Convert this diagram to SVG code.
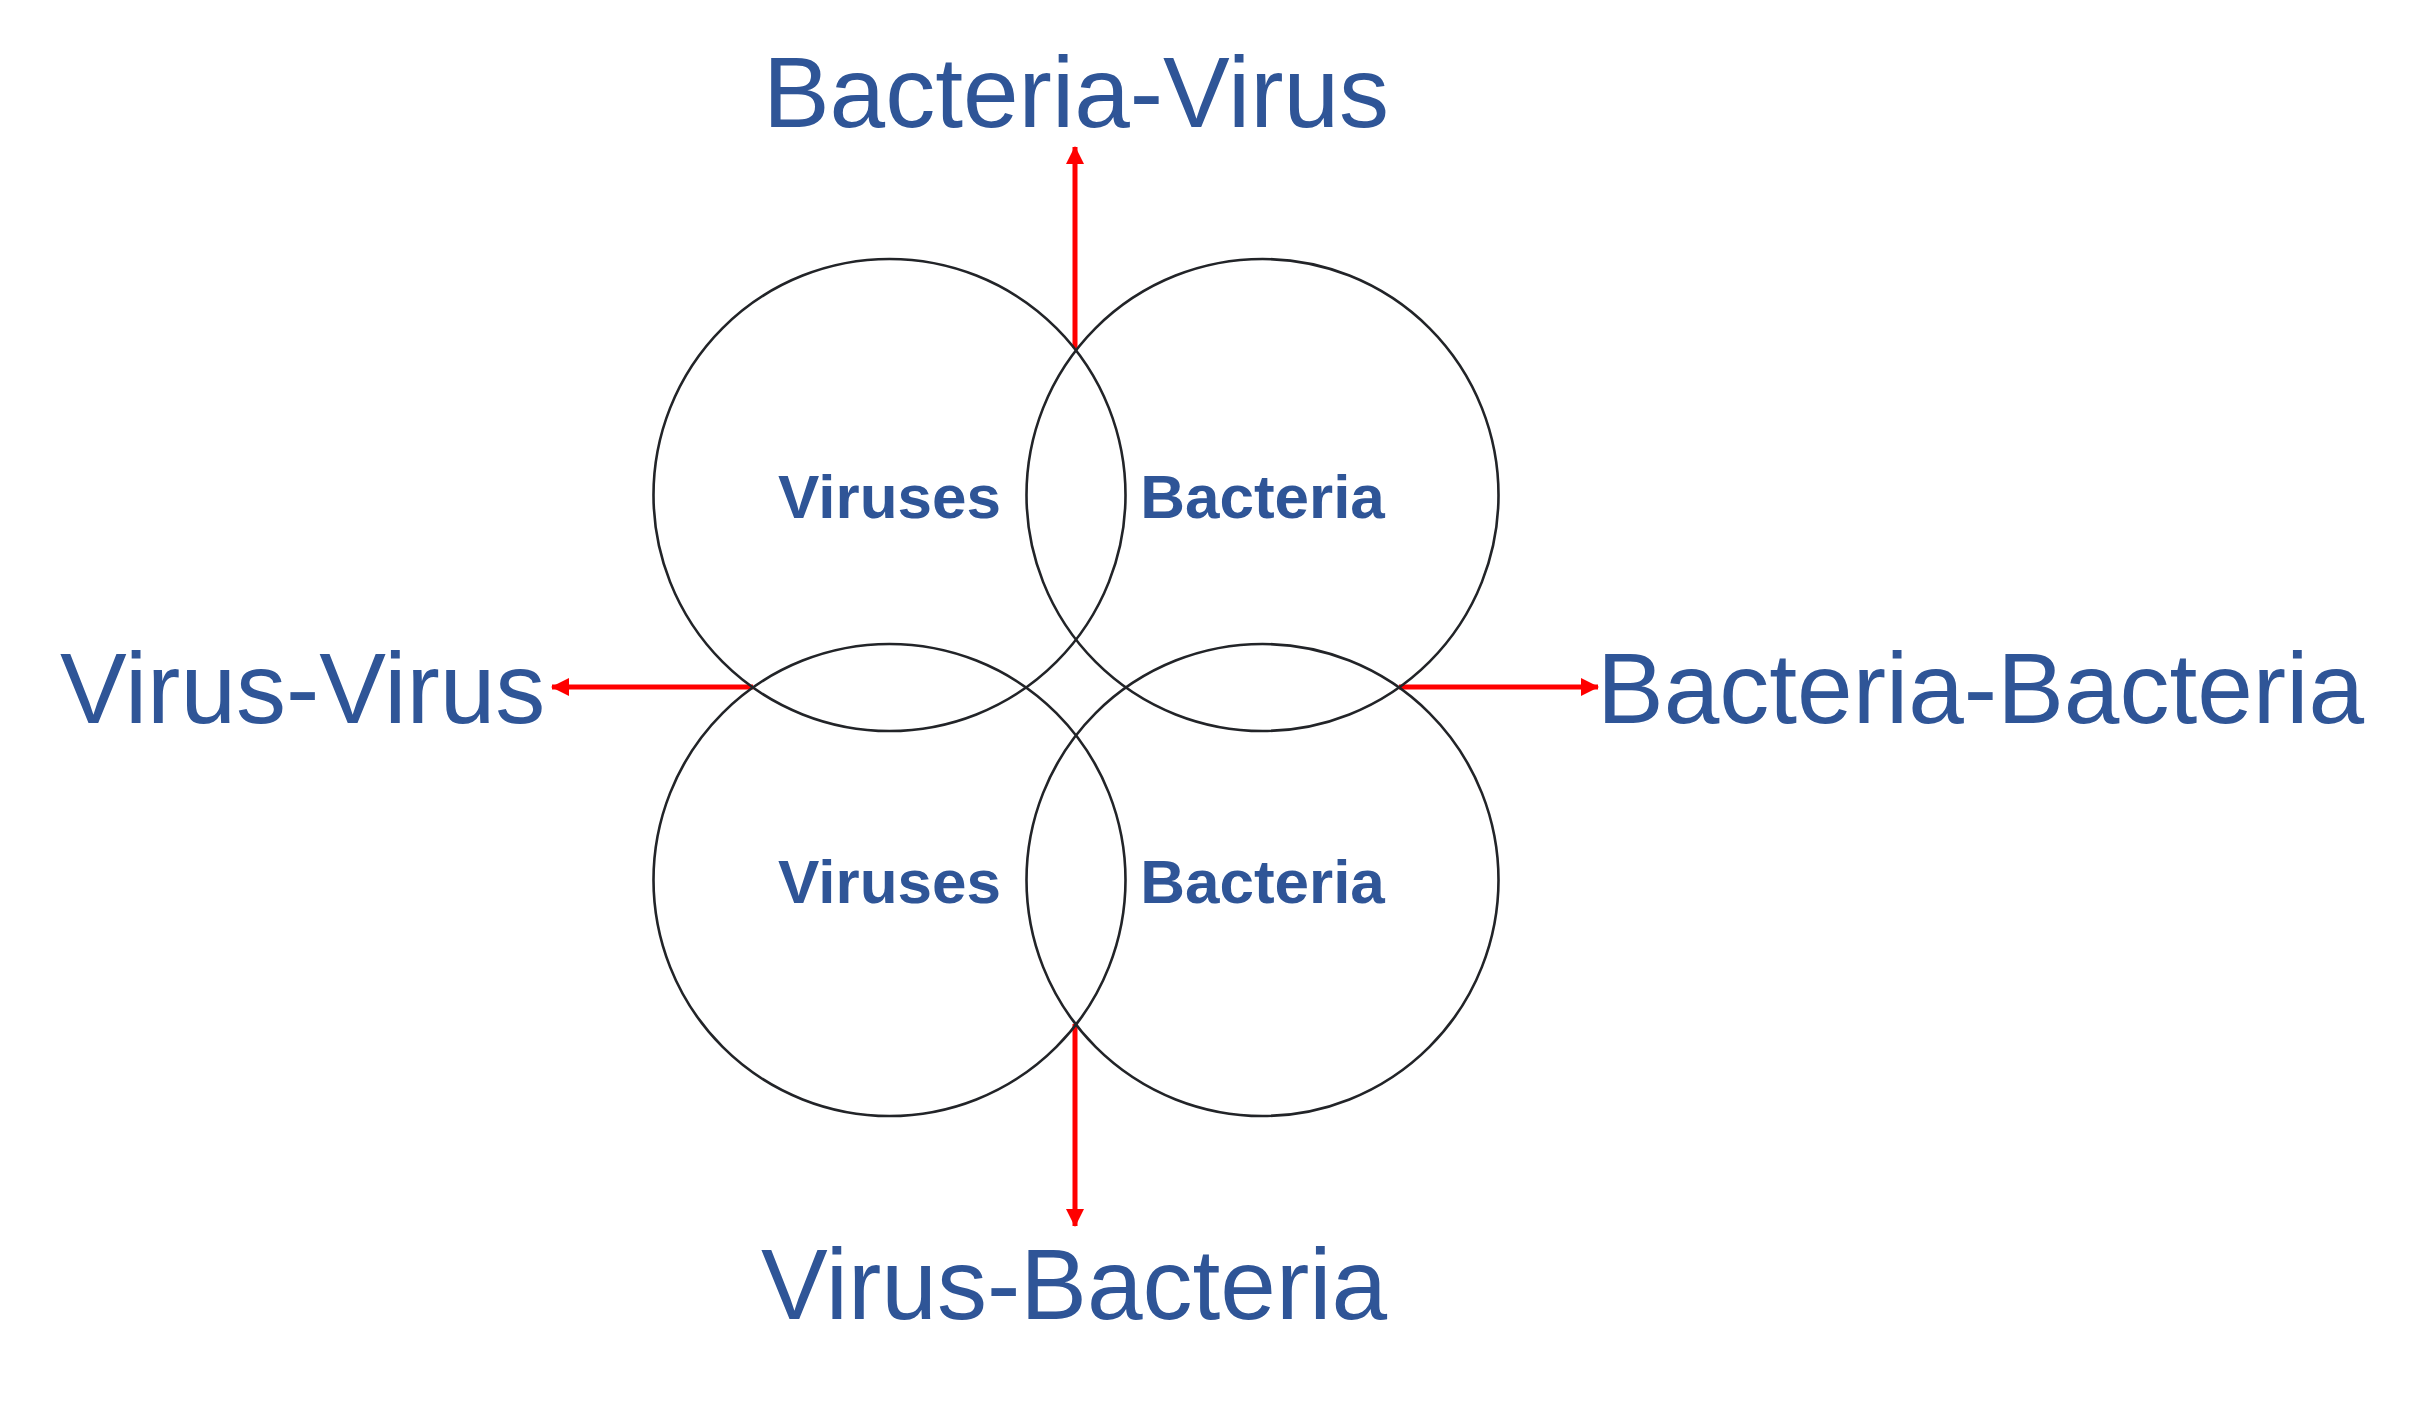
<svg xmlns="http://www.w3.org/2000/svg" width="2427" height="1402" viewBox="0 0 2427 1402">
<style>
.c{fill:none;stroke:#222428;stroke-width:2.6}
.lbl{font-family:"Liberation Sans",Arial,sans-serif;font-weight:bold;font-size:62px;fill:#2F5597;text-anchor:middle}
.big{font-family:"Liberation Sans",Arial,sans-serif;font-size:100px;fill:#2F5597}
.a{stroke:#FF0000;stroke-width:5;fill:none;marker-end:url(#ah)}
</style>
<defs>
<marker id="ah" markerUnits="userSpaceOnUse" markerWidth="18" markerHeight="18" refX="17" refY="9" orient="auto" viewBox="0 0 18 18">
<path d="M0,0 L18,9 L0,18 Z" fill="#FF0000"/>
</marker>
</defs>
<rect width="2427" height="1402" fill="#FFFFFF"/>
<g id="connectors">
<line class="a" x1="1075" y1="348" x2="1075" y2="147"/>
<line class="a" x1="1075" y1="1024" x2="1075" y2="1226"/>
<line class="a" x1="753" y1="687" x2="552" y2="687"/>
<line class="a" x1="1399" y1="687" x2="1598" y2="687"/>
</g>
<g id="virusesTop">
<circle class="c" cx="889.5" cy="495" r="236"/>
<text class="lbl" x="889.5" y="518">Viruses</text>
</g>
<g id="bacteriaTop">
<circle class="c" cx="1262.5" cy="495" r="236"/>
<text class="lbl" x="1262.5" y="518">Bacteria</text>
</g>
<g id="virusesBottom">
<circle class="c" cx="889.5" cy="880" r="236"/>
<text class="lbl" x="889.5" y="903">Viruses</text>
</g>
<g id="bacteriaBottom">
<circle class="c" cx="1262.5" cy="880" r="236"/>
<text class="lbl" x="1262.5" y="903">Bacteria</text>
</g>
<g id="labelBacteriaVirus">
<text class="big" x="1076" y="127" text-anchor="middle">Bacteria-Virus</text>
</g>
<g id="labelVirusBacteria">
<text class="big" x="1074" y="1319" text-anchor="middle">Virus-Bacteria</text>
</g>
<g id="labelVirusVirus">
<text class="big" x="60" y="723">Virus-Virus</text>
</g>
<g id="labelBacteriaBacteria">
<text class="big" x="1597" y="723">Bacteria-Bacteria</text>
</g>
</svg>
